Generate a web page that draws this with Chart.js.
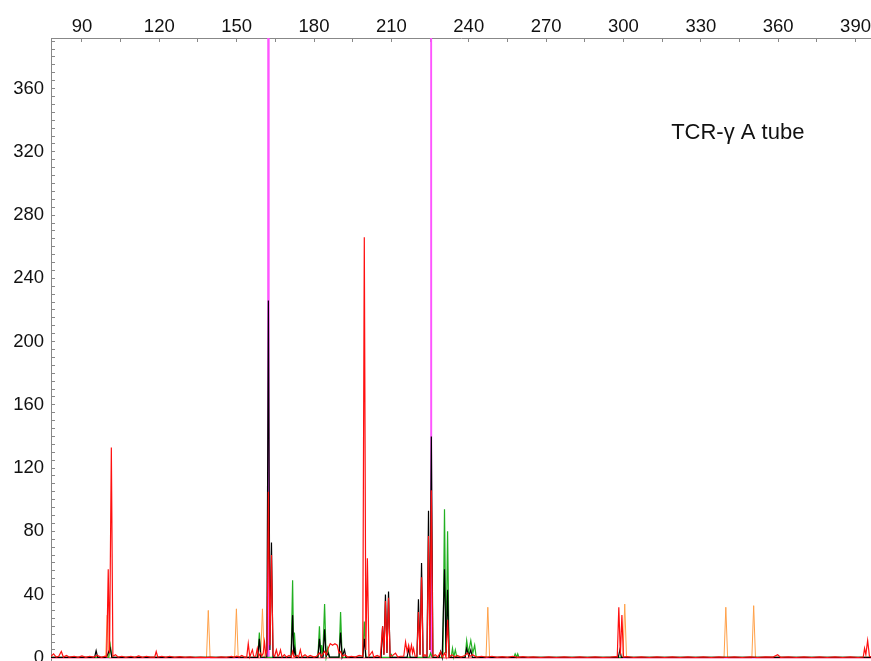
<!DOCTYPE html>
<html lang="en">
<head>
    <meta charset="UTF-8">
    <title>TCR-γ A tube</title>
    <script src="https://cdn.jsdelivr.net/npm/chart.js"></script>
    <style>
        body, html {
            margin: 0;
            padding: 0;
            background: #fff;
            overflow: hidden;
        }
        #wrap {
            width: 871px;
            height: 661px;
        }
    </style>
</head>
<body>
    <div id="wrap"><canvas id="traceChart"></canvas></div>

    <script>
        // size (bp) tick labels and fluorescence tick labels
        const xTicks = [90, 120, 150, 180, 210, 240, 270, 300, 330, 360, 390];
        const yTicks = [0, 40, 80, 120, 160, 200, 240, 280, 320, 360];
        const panelLabel = 'TCR-γ A tube';

        // traces as [size, height] points
        const red = [[78, 1], [79, 2.5], [80, 0.5], [81, 1], [82, 4], [82.8, 0.5], [84, 1.5], [85, 0.5], [87, 1], [88.5, 0.3],
            [90, 1.2], [91.5, 0.3], [93, 1], [94.5, 0.5], [96, 1.5], [97.5, 0.3], [99, 1], [99.6, 0.5], [100.2, 56], [100.7, 3],
            [101.4, 133], [102, 1], [103, 2], [104, 0.5], [105.5, 1], [107, 0.3], [109, 1], [110.5, 0.3], [112, 1.2], [113.5, 0.3],
            [115, 1], [116.5, 0.5], [118.2, 0.5], [118.8, 4], [119.4, 0.5], [121, 1], [122.5, 0.3], [124, 1], [126, 0.3], [128, 0.8],
            [130, 0.3], [132, 0.6], [134, 0.2], [136, 0.5], [138, 0.2], [140, 0.5], [142, 0.2], [144, 0.6], [146, 0.3], [148, 1],
            [149, 0.3], [150, 1], [151, 0.5], [152, 1.5], [153, 0.5], [153.9, 0.5], [154.5, 9], [155.1, 0.5], [155.6, 3], [156.1, 5],
            [156.6, 1], [157.4, 1], [158, 6], [158.6, 1], [159.2, 3], [159.7, 1], [160.3, 3], [160.8, 10], [161.3, 2], [161.8, 5],
            [162.3, 105], [162.9, 8], [163.5, 65], [164.1, 2], [164.7, 1], [165.4, 5], [166, 1], [166.5, 2], [167, 5], [167.6, 0.5],
            [168.5, 2], [169.3, 0.5], [170.3, 1.5], [171.2, 0.5], [171.7, 4], [172.3, 0.5], [173.5, 1.5], [174, 0.5], [174.7, 5], [175.3, 0.5],
            [176.5, 2], [177.5, 0.5], [178.5, 1.5], [180, 0.5], [181, 1], [182.1, 3], [182.9, 1], [184.1, 4], [184.8, 2], [185.5, 6],
            [186.3, 9], [187.2, 8], [188.1, 9], [189, 8], [189.7, 3], [190.3, 4], [191, 1], [192, 2], [193, 0.5], [194.5, 1],
            [196, 0.5], [197.5, 1.5], [198.9, 1], [199.5, 266], [200.1, 5], [200.7, 63], [201.3, 1], [202.6, 4], [203.2, 0.5], [204.5, 1.5],
            [205.7, 0.5], [206.6, 20], [207.1, 2], [207.7, 36], [208.3, 3], [208.9, 38], [209.5, 1], [210.5, 1.5], [211.6, 3], [212.5, 0.5],
            [213.5, 1], [214.8, 1], [215.5, 10], [216.1, 4], [216.7, 8], [217.2, 3], [217.8, 8], [218.2, 3], [218.6, 6], [219.2, 1],
            [219.9, 1], [220.5, 29], [221.1, 2], [221.7, 51], [222.3, 1], [223, 2], [223.8, 1], [224.4, 77], [224.9, 5], [225.5, 106],
            [226.1, 1], [227, 2], [228, 0.5], [229.1, 4], [229.7, 0.5], [230.6, 3], [231.2, 0.5], [231.8, 24], [232.4, 0.5], [233.5, 2],
            [234.5, 0.5], [235.5, 1.5], [237, 0.5], [238.5, 1.5], [239.5, 3], [240.5, 1], [241.5, 2], [243, 0.5], [245, 1], [247, 0.3],
            [249, 1], [251, 0.3], [253, 0.8], [255, 0.3], [257, 1], [259, 0.3], [261, 0.8], [263, 0.3], [265, 0.6], [268, 0.2],
            [271, 0.6], [274, 0.2], [277, 0.6], [280, 0.2], [283, 0.6], [286, 0.2], [289, 0.6], [292, 0.2], [295, 0.5], [297, 0.8],
            [297.6, 0.5], [298.2, 32], [298.8, 2], [299.4, 27], [300, 0.5], [301.5, 0.8], [304, 0.2], [307, 0.6], [310, 0.2], [313, 0.6],
            [316, 0.2], [319, 0.6], [322, 0.2], [325, 0.6], [328, 0.2], [331, 0.6], [334, 0.2], [337, 0.6], [340, 0.2], [343, 0.6],
            [346, 0.2], [349, 0.6], [352, 0.2], [355, 0.6], [358, 0.5], [359.8, 2], [361, 0.3], [364, 0.6], [367, 0.2], [370, 0.6],
            [373, 0.2], [376, 0.6], [379, 0.2], [382, 0.6], [385, 0.2], [388, 0.6], [391, 0.2], [393, 0.5], [393.5, 6], [394, 2],
            [394.7, 11], [395.4, 1], [396, 0.5]];

        const black = [[78, 0.3], [94.9, 0.3], [95.5, 4.5], [96.1, 0.3], [99.5, 0.3], [100.2, 3], [101, 6], [101.6, 0.3], [158.2, 0.3], [158.8, 12],
            [159.4, 0.3], [161.7, 0.5], [162.3, 226], [162.9, 5], [163.5, 73], [164.1, 0.3], [171.1, 0.3], [171.7, 27], [172.1, 1], [172.5, 6],
            [173, 0.3], [181.5, 0.3], [182.1, 12], [182.7, 0.5], [183.5, 0.5], [184.1, 18], [184.7, 1], [185.5, 3], [186, 0.5], [189.7, 0.5],
            [190.3, 16], [190.9, 0.5], [191.8, 5], [192.4, 0.3], [198.9, 0.3], [199.5, 12], [200.1, 0.3], [206, 0.3], [206.6, 20], [207.1, 2],
            [207.7, 40], [208.3, 3], [208.9, 42], [209.5, 0.3], [216.1, 0.3], [216.7, 6], [217.3, 0.3], [219.9, 0.3], [220.5, 37], [221.1, 2],
            [221.7, 60], [222.3, 0.5], [223.8, 0.5], [224.4, 93], [224.9, 5], [225.5, 140], [226.1, 0.3], [228.5, 0.3], [229.1, 4], [229.7, 0.3],
            [230, 0.3], [230.6, 56], [231.2, 3], [231.8, 43], [232.4, 0.3], [238.6, 0.3], [239.2, 6], [240, 1], [240.8, 5], [241.4, 0.3],
            [298, 0.3], [298.6, 5], [299.2, 0.3], [396, 0.3]];

        const green = [[78, 0.3], [100.4, 0.3], [101, 8], [101.6, 0.3], [158.2, 0.3], [158.8, 16], [159.4, 0.3], [171.1, 0.3], [171.7, 49], [172.1, 2],
            [172.4, 16], [173, 0.3], [181.5, 0.3], [182.1, 20], [182.6, 2], [182.9, 8], [183.4, 1], [184.1, 34], [184.7, 0.5], [185.3, 6],
            [186, 0.3], [189.7, 0.3], [190.3, 29], [190.9, 0.3], [198.9, 0.3], [199.5, 23], [200.1, 0.3], [209.5, 0.3], [210, 2], [210.5, 0.3],
            [224.6, 0.3], [225.2, 3], [225.8, 0.3], [230, 0.3], [230.6, 94], [231.2, 3], [231.8, 80], [232.4, 0.3], [233.2, 0.5], [233.7, 6],
            [234.2, 0.5], [234.8, 5], [235.4, 0.3], [238.6, 0.3], [239.2, 11], [239.9, 3], [240.8, 11], [241.6, 3], [242.3, 8], [242.9, 0.3],
            [257.5, 0.3], [258, 2.5], [258.6, 0.5], [259, 2.5], [259.5, 0.3], [396, 0.3]];

        const orange = [[78, 0], [99.2, 0], [99.8, 27], [100.4, 0], [138.3, 0], [139, 30], [139.7, 0], [149.2, 0], [149.9, 31], [150.6, 0],
            [159.3, 0], [160, 31], [160.7, 0], [246.7, 0], [247.4, 32], [248.1, 0], [299.8, 0], [300.5, 34], [301.2, 0], [339, 0],
            [339.7, 32], [340.4, 0], [349.8, 0], [350.5, 33], [351.2, 0], [396, 0]];

        const magenta = [[78, 0], [162.1, 0], [162.3, 1500], [162.5, 0], [225.15, 0], [225.35, 1500], [225.55, 0], [396, 0]];

        const FONT = "'Liberation Sans', Arial, sans-serif";
        const toPts = (arr) => arr.map(([x, y]) => ({ x, y }));
        const trace = (label, pts, color, order, width) => ({
            label, data: toPts(pts), borderColor: color, borderWidth: width,
            pointRadius: 0, tension: 0, fill: false, order
        });

        // panel label drawn at a data position
        const labelPlugin = {
            id: 'panelLabel',
            afterDraw(chart) {
                const { ctx, scales } = chart;
                ctx.save();
                ctx.font = '22px ' + FONT;
                ctx.fillStyle = '#111';
                ctx.textAlign = 'left';
                ctx.textBaseline = 'middle';
                ctx.fillText(panelLabel, scales.x.getPixelForValue(318.5), scales.y.getPixelForValue(332));
                ctx.restore();
            }
        };

        new Chart(document.getElementById('traceChart'), {
            type: 'line',
            data: {
                datasets: [
                    trace('red', red, '#ff1010', 0, 1.2),
                    trace('black', black, '#000000', 1, 1.2),
                    trace('green', green, '#22b022', 2, 1.2),
                    trace('orange', orange, '#ffa048', 3, 1),
                    trace('magenta', magenta, '#ff55ff', 4, 1.5)
                ]
            },
            options: {
                animation: false,
                responsive: true,
                maintainAspectRatio: false,
                layout: { padding: 0 },
                scales: {
                    x: {
                        type: 'linear', position: 'top', min: 78, max: 396,
                        afterBuildTicks: (s) => {
                            const t = [];
                            for (let v = 90; v <= 390; v += 15) t.push({ value: v });
                            s.ticks = t;
                        },
                        afterFit: (s) => { s.height = 38; s.paddingLeft = 0; s.paddingRight = 0; },
                        ticks: {
                            autoSkip: false, maxRotation: 0, padding: 4, color: '#111',
                            font: { family: FONT, size: 18.5 },
                            callback: (v) => xTicks.includes(v) ? String(v) : ''
                        },
                        grid: { drawOnChartArea: false, tickLength: -4, color: '#888' },
                        border: { color: '#888', width: 1 }
                    },
                    y: {
                        type: 'linear', min: -2, max: 392,
                        afterBuildTicks: (s) => {
                            const t = [];
                            for (let v = 0; v <= 390; v += 5) t.push({ value: v });
                            s.ticks = t;
                        },
                        afterFit: (s) => { s.width = 51; s.paddingTop = 0; s.paddingBottom = 0; },
                        ticks: {
                            autoSkip: false, padding: 11, color: '#111',
                            font: { family: FONT, size: 18.5 },
                            callback: (v) => yTicks.includes(v) ? String(v) : ''
                        },
                        grid: { drawOnChartArea: false, tickLength: -4, color: '#888' },
                        border: { color: '#888', width: 1 }
                    }
                },
                plugins: {
                    legend: { display: false },
                    tooltip: { enabled: false }
                }
            },
            plugins: [labelPlugin]
        });
    </script>
</body>
</html>
